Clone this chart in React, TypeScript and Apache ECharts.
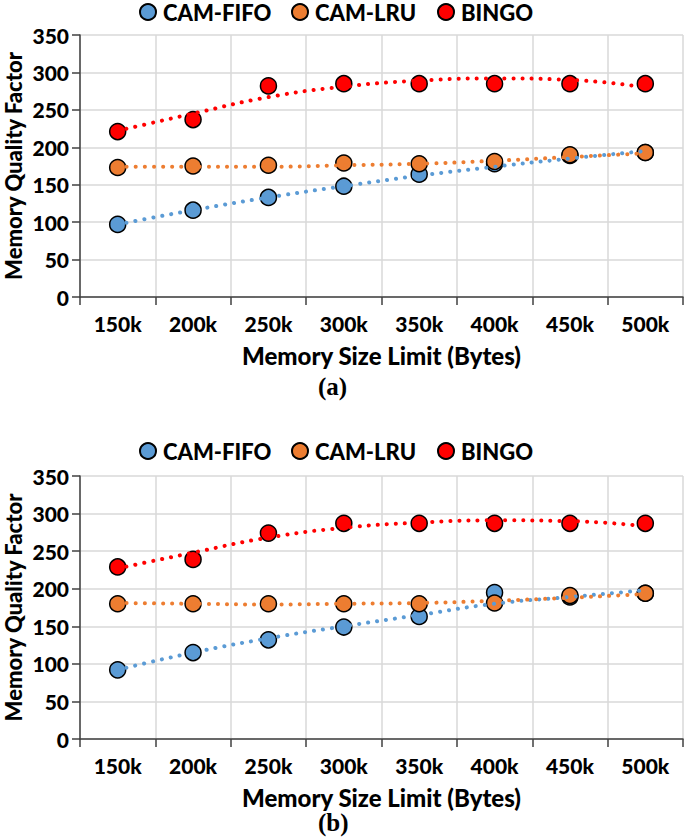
import React, { useEffect, useRef } from "react";
import * as echarts from "echarts";

const categories = ["150k", "200k", "250k", "300k", "350k", "400k", "450k", "500k"];
const seriesNames = ["CAM-FIFO", "CAM-LRU", "BINGO"];
const colors = ["#5B9BD5", "#ED7D31", "#FF0000"];

// Chart (a)
const fifoA = [97, 116, 133, 148, 164, 178, 189, 193];
const lruA = [173, 175, 176, 179, 178, 181, 190, 193];
const bingoA = [221, 237, 282, 285, 285, 285, 285, 285];
const fifoTrendA = [97, 116, 133, 148, 162, 174, 185, 195];
const lruTrendA = [174, 174, 174, 176, 178, 182, 187, 192];
const bingoTrendA = [222, 245, 267, 281, 289, 292, 290, 280];

// Chart (b)
const fifoB = [92, 115, 132, 149, 163, 195, 189, 194];
const lruB = [180, 180, 180, 180, 180, 181, 191, 194];
const bingoB = [229, 239, 274, 287, 287, 287, 287, 287];
const fifoTrendB = [92, 115, 134, 150, 165, 180, 189, 198];
const lruTrendB = [181, 180, 179, 180, 181, 184, 188, 193];
const bingoTrendB = [227, 248, 268, 281, 288, 291, 290, 283];

const yTicks = { min: 0, max: 350, interval: 50 };
const FONT = "Lato";
const W = 900;

export default function App() {
  const ref = useRef<HTMLDivElement>(null);
  useEffect(() => {
    if (!ref.current) return;
    const chart = echarts.init(ref.current, null, { renderer: "svg" });
    const grids = [
      { left: 80, right: 2, top: 35, height: 262, containLabel: false, outerBoundsMode: "none" },
      { left: 80, right: 2, top: 476, height: 263, containLabel: false, outerBoundsMode: "none" },
    ];
    const mkX = (i: number) => ({
      type: "category",
      gridIndex: i,
      data: categories,
      boundaryGap: true,
      axisLine: { lineStyle: { color: "#404040", width: 1.5 } },
      axisTick: { show: true, length: 8, lineStyle: { color: "#404040", width: 1.5 } },
      axisLabel: { color: "#000", fontFamily: FONT, fontWeight: W, fontSize: 21, margin: 16 },
      splitLine: { show: true, lineStyle: { color: "#d9d9d9", width: 1.5 } },
      name: "Memory Size Limit (Bytes)",
      nameLocation: "middle",
      nameGap: 46,
      nameMoveOverlap: false,
      nameTextStyle: { color: "#000", fontFamily: FONT, fontWeight: W, fontSize: 24 },
    });
    const mkY = (i: number) => ({
      type: "value",
      gridIndex: i,
      min: yTicks.min,
      max: yTicks.max,
      interval: yTicks.interval,
      axisLine: { show: true, lineStyle: { color: "#404040", width: 1.5 } },
      axisTick: { show: true, length: 8, lineStyle: { color: "#404040", width: 1.5 } },
      axisLabel: { color: "#000", fontFamily: FONT, fontWeight: W, fontSize: 21, margin: 11 },
      splitLine: { show: true, lineStyle: { color: "#d9d9d9", width: 1.5 } },
      name: "Memory Quality Factor",
      nameLocation: "middle",
      nameGap: 56,
      nameMoveOverlap: false,
      nameTextStyle: { color: "#000", fontFamily: FONT, fontWeight: W, fontSize: 22, lineHeight: 22 },
    });
    const sets = [
      { pts: [fifoA, lruA, bingoA], trend: [fifoTrendA, lruTrendA, bingoTrendA] },
      { pts: [fifoB, lruB, bingoB], trend: [fifoTrendB, lruTrendB, bingoTrendB] },
    ];
    const series: any[] = [];
    sets.forEach((s, gi) => {
      s.pts.forEach((d, k) => {
        series.push({
          type: "scatter",
          name: seriesNames[k],
          xAxisIndex: gi,
          yAxisIndex: gi,
          data: d,
          symbol: "circle",
          symbolSize: 16,
          itemStyle: { color: colors[k], borderColor: "#000", borderWidth: 1.5, opacity: 1 },
          z: 2,
        });
      });
      s.trend.forEach((d, k) => {
        series.push({
          type: "line",
          name: seriesNames[k] + " trend",
          xAxisIndex: gi,
          yAxisIndex: gi,
          data: d,
          smooth: true,
          symbol: "none",
          lineStyle: { color: colors[k], width: 4, type: [0.1, 9], cap: "round" },
          z: 3,
        });
      });
    });
    const legendLefts = [139, 291, 437];
    const legends: any[] = [];
    [1, 440].forEach((top) => {
      seriesNames.forEach((n, k) => {
        legends.push({
          top,
          left: legendLefts[k],
          padding: 0,
          data: [n],
          icon: "circle",
          itemWidth: 16,
          itemHeight: 16,
          textStyle: { color: "#000", fontFamily: FONT, fontWeight: W, fontSize: 22, padding: [0, 0, 0, 2] },
          selectedMode: false,
        });
      });
    });
    chart.setOption({
      animation: false,
      backgroundColor: "#fff",
      legend: legends,
      grid: grids,
      xAxis: [mkX(0), mkX(1)],
      yAxis: [mkY(0), mkY(1)],
      series,
      graphic: [
        {
          type: "text",
          left: 318,
          top: 374,
          style: { text: "(a)", font: "bold 25px 'Liberation Serif', serif", fill: "#000" },
        },
        {
          type: "text",
          left: 318,
          top: 810,
          style: { text: "(b)", font: "bold 25px 'Liberation Serif', serif", fill: "#000" },
        },
      ],
    });
    return () => chart.dispose();
  }, []);
  return (
    <div
      ref={ref}
      style={{ position: "fixed", left: 0, top: 0, width: 685, height: 839, background: "#fff" }}
    />
  );
}
